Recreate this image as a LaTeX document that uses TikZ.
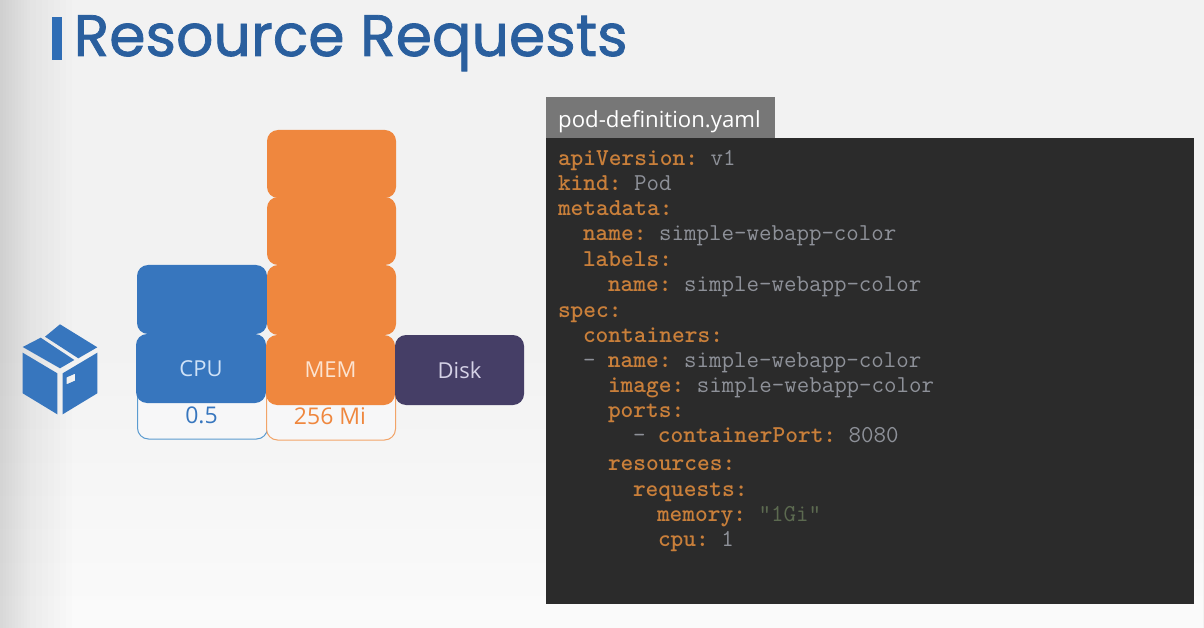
\documentclass[tikz,border=0pt]{standalone}
\usepackage{fontspec}
\usetikzlibrary{fadings}
\setmainfont{Open Sans}
\newfontfamily\titlefont[FakeBold=1.3]{Poppins}
\definecolor{bgbase}{HTML}{F2F2F2}
\definecolor{bglow}{HTML}{FBFBFB}
\definecolor{boxfill}{HTML}{F7F7F8}
\definecolor{titleblue}{HTML}{2A5F9E}
\definecolor{barblue}{HTML}{2F6DB5}
\definecolor{cpublue}{HTML}{3776BE}
\definecolor{cpuline}{HTML}{5B9BD0}
\definecolor{memorange}{HTML}{EF873E}
\definecolor{memline}{HTML}{F2A468}
\definecolor{diskpurple}{HTML}{453E66}
\definecolor{tabgrey}{HTML}{777777}
\definecolor{panelgrey}{HTML}{2B2B2B}
\definecolor{keyorange}{HTML}{C97F3A}
\definecolor{valgrey}{HTML}{8E9199}
\definecolor{strgreen}{HTML}{5C6A50}
\definecolor{cpulabel}{HTML}{CFE2F7}
\definecolor{memlabel}{HTML}{FCE3D0}
\definecolor{disklabel}{HTML}{D5D2E6}
\tikzset{
  x=1pt,y=-1pt,
  block/.style={rounded corners=11pt,minimum width=#1,minimum height=69pt,inner sep=0pt,outer sep=0pt,anchor=north west,font=\fontsize{22}{24}\selectfont},
  outline/.style={rounded corners=11pt,draw=#1,line width=1pt,fill=boxfill,inner sep=0pt,outer sep=0pt,anchor=north west,minimum width=129pt,minimum height=60pt},
  valuetext/.style={font=\fontsize{23}{25}\selectfont,inner sep=0pt,text=#1},
  codeline/.style={anchor=base west,inner sep=0pt,outer sep=0pt,font=\ttfamily\fontsize{24.25}{26}\selectfont\frenchspacing,text=valgrey},
}
\newcommand{\kk}[1]{\textcolor{keyorange}{\bfseries #1}}
\begin{document}
\begin{tikzpicture}
\useasboundingbox (0,0) rectangle (1204,628);
% background
\fill[bgbase] (0,0) rectangle (1204,628);
\fill[bglow,path fading=north] (0,330) rectangle (1204,628);
\foreach \w in {3,6,...,30,36,42,...,72}
  \fill[black,opacity=0.006] (0,0) rectangle (\w,628);
% title
\fill[barblue] (52,17) rectangle (62,60);
\node[anchor=base west,inner sep=0pt,text=titleblue,font=\titlefont\fontsize{58.5}{62}\selectfont] (title) at (73.5,56) {Resource Requests};
% package icon
\fill[cpublue] (60,324.3) -- (97.3,347.3) -- (78.3,358.3) -- (45,336.7) -- cycle;
\fill[cpublue] (40.7,337.7) -- (74.3,360) -- (60,368.3) -- (22.7,347) -- cycle;
\fill[cpublue] (22.7,352.7) -- (57.3,373.3) -- (57.3,414.3) -- (22.7,393.3) -- cycle;
\fill[cpublue,even odd rule] (62.7,373.3) -- (97.3,352.7) -- (97.3,393.3) -- (62.7,414.3) -- cycle
  (66.7,377.3) -- (75,373.7) -- (75,380.7) -- (66.7,384.3) -- cycle;
% request outlines with values
\node[outline=cpuline,minimum width=130pt] (cpubase) at (137.5,379) {};
\node[outline=memline] (membase) at (266.5,380) {};
\node[valuetext=cpublue] (cpuval) at (201.5,415) {0.5};
\node[valuetext=memorange] (memval) at (330,416) {256 Mi};
% stacks
\node[block=130pt,fill=cpublue] (cpu2) at (137,265) {};
\node[block=130pt,fill=cpublue] (cpu) at (136,334) {\textcolor{cpulabel}{CPU}};
\node[block=129pt,fill=memorange,minimum height=68pt] (mem4) at (267,130) {};
\node[block=129pt,fill=memorange,minimum height=68pt] (mem3) at (267,197) {};
\node[block=129pt,fill=memorange,minimum height=70pt] (mem2) at (267,265) {};
\node[block=129pt,fill=memorange,minimum height=70pt] (mem) at (266,335) {\textcolor{memlabel}{MEM}};
\node[block=129pt,fill=diskpurple,minimum height=70pt] (disk) at (395,335) {\textcolor{disklabel}{Disk}};
% yaml panel
\fill[tabgrey] (546,97) rectangle (775,138);
\node[anchor=base west,inner sep=0pt,text=white,font=\fontsize{22.2}{25}\selectfont] (tab) at (558,127.5) {pod-definition.yaml};
\fill[panelgrey] (546,138) rectangle (1194,604);
\node[codeline] (l1) at (558,166) {\kk{apiVersion:} v1};
\node[codeline] (l2) at (558,191) {\kk{kind:} Pod};
\node[codeline] (l3) at (558,216) {\kk{metadata:}};
\node[codeline] (l4) at (583,241) {\kk{name:} simple-webapp-color};
\node[codeline] (l5) at (583,266) {\kk{labels:}};
\node[codeline] (l6) at (608,291) {\kk{name:} simple-webapp-color};
\node[codeline] (l7) at (558,317) {\kk{spec:}};
\node[codeline] (l8) at (583,342) {\kk{containers:}};
\node[codeline] (l9) at (583,367) {- \kk{name:} simple-webapp-color};
\node[codeline] (l10) at (608,392) {\kk{image:} simple-webapp-color};
\node[codeline] (l11) at (608,417) {\kk{ports:}};
\node[codeline] (l12) at (633,442) {- \kk{containerPort:} 8080};
\node[codeline] (l13) at (608,470) {\kk{resources:}};
\node[codeline] (l14) at (633,496) {\kk{requests:}};
\node[codeline] (l15) at (657,521) {\kk{memory:} \textcolor{strgreen}{"1Gi"}};
\node[codeline] (l16) at (658,546) {\kk{cpu:} 1};
\end{tikzpicture}
\end{document}
